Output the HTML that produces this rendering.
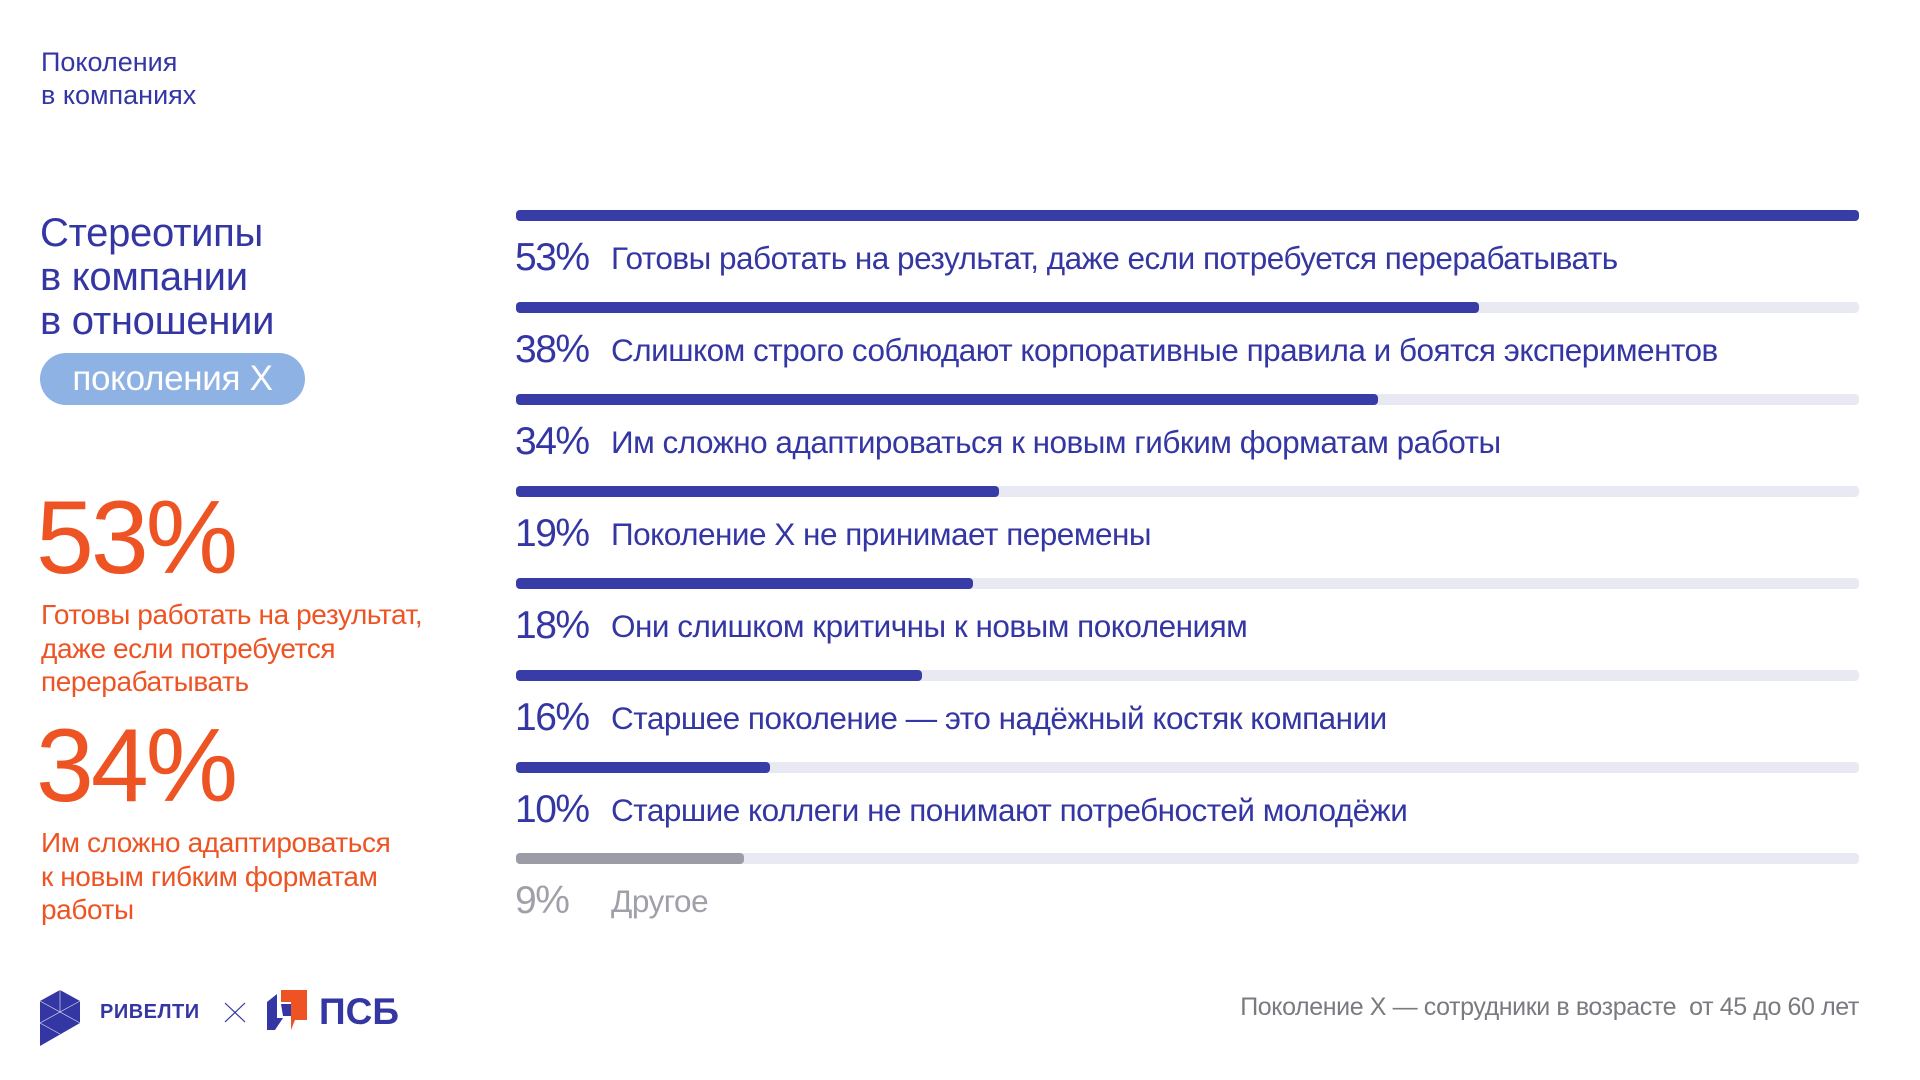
<!DOCTYPE html>
<html><head><meta charset="utf-8"><style>
*{margin:0;padding:0;box-sizing:border-box}
body{width:1920px;height:1080px;background:#fff;position:relative;overflow:hidden;font-family:"Liberation Sans","Noto Sans CJK SC",sans-serif;color:#3436a3}
.a{position:absolute;white-space:nowrap}
.track{position:absolute;left:516px;width:1343px;height:11px;border-radius:4px;background:#e9e9f3}
.fill{position:absolute;left:0;top:0;height:11px;border-radius:4px;background:#383ca6}
.pct{position:absolute;left:515px;font-size:39px;letter-spacing:-1.5px;line-height:40px}
.lbl{position:absolute;left:611px;font-size:31.5px;letter-spacing:-0.5px;line-height:40px}
.or{color:#ee5423}
</style></head><body>
<div class="a" style="left:41px;top:46px;font-size:27px;line-height:33px;letter-spacing:0px">Поколения<br>в компаниях</div>
<div class="a" style="left:40px;top:211px;font-size:40px;line-height:44px;letter-spacing:-0.3px">Стереотипы<br>в компании<br>в отношении</div>
<div class="a" style="left:40px;top:353px;width:265px;height:52px;border-radius:26px;background:#8fb2e5;color:#fff;font-size:35px;line-height:52px;text-align:center;letter-spacing:-0.3px">поколения X</div>
<div class="a or" style="left:36px;top:486px;font-size:104px;line-height:104px;letter-spacing:-3px">53%</div>
<div class="a or" style="left:41px;top:598px;font-size:28px;line-height:33.5px;letter-spacing:-0.4px">Готовы работать на результат,<br>даже если потребуется<br>перерабатывать</div>
<div class="a or" style="left:36px;top:714px;font-size:104px;line-height:104px;letter-spacing:-3px">34%</div>
<div class="a or" style="left:41px;top:826px;font-size:28px;line-height:33.5px;letter-spacing:-0.4px">Им сложно адаптироваться<br>к новым гибким форматам<br>работы</div>

<div class="track" style="top:210px"><div class="fill" style="width:100%"></div></div>
<div class="pct" style="top:238px">53%</div><div class="lbl" style="top:238px">Готовы работать на результат, даже если потребуется перерабатывать</div>
<div class="track" style="top:302px"><div class="fill" style="width:71.7%"></div></div>
<div class="pct" style="top:330px">38%</div><div class="lbl" style="top:330px">Слишком строго соблюдают корпоративные правила и боятся экспериментов</div>
<div class="track" style="top:394px"><div class="fill" style="width:64.2%"></div></div>
<div class="pct" style="top:422px">34%</div><div class="lbl" style="top:422px">Им сложно адаптироваться к новым гибким форматам работы</div>
<div class="track" style="top:486px"><div class="fill" style="width:36%"></div></div>
<div class="pct" style="top:514px">19%</div><div class="lbl" style="top:514px">Поколение X не принимает перемены</div>
<div class="track" style="top:578px"><div class="fill" style="width:34%"></div></div>
<div class="pct" style="top:606px">18%</div><div class="lbl" style="top:606px">Они слишком критичны к новым поколениям</div>
<div class="track" style="top:670px"><div class="fill" style="width:30.2%"></div></div>
<div class="pct" style="top:698px">16%</div><div class="lbl" style="top:698px">Старшее поколение — это надёжный костяк компании</div>
<div class="track" style="top:762px"><div class="fill" style="width:18.9%"></div></div>
<div class="pct" style="top:790px">10%</div><div class="lbl" style="top:790px">Старшие коллеги не понимают потребностей молодёжи</div>
<div class="track" style="top:853px"><div class="fill" style="width:17%;background:#9c9ca6"></div></div>
<div class="pct" style="top:881px;color:#a0a0aa">9%</div><div class="lbl" style="top:881px;color:#a0a0aa">Другое</div>

<svg class="a" style="left:40px;top:990px" width="42" height="58" viewBox="0 0 42 58">
<polygon points="0,11 20,0 40,11 40,33 0,56" fill="#3436a3"/>
<g stroke="#fff" stroke-width="0.7" fill="none" opacity="0.8"><line x1="20" y1="0" x2="20" y2="22"/><line x1="0" y1="11" x2="40" y2="33"/><line x1="40" y1="11" x2="0" y2="33"/><line x1="0" y1="33" x2="20" y2="44"/></g>
</svg>
<div class="a" style="left:100px;top:1001px;font-size:20px;font-weight:bold;letter-spacing:0.5px">РИВЕЛТИ</div>
<svg class="a" style="left:224px;top:1002px" width="22" height="21"><path d="M1 1L21 20M21 1L1 20" stroke="#3436a3" stroke-width="1.2"/></svg>
<svg class="a" style="left:267px;top:990px" width="42" height="42" viewBox="0 0 42 42">
<polygon points="0,12 10,4 10,28 16,28 8,40 0,40" fill="#3436a3"/>
<polygon points="14,0 40,0 40,30 28,30 24,40 24,12 14,12" fill="#ee5423"/>
<polygon points="14,14 24,14 24,26 16,26" fill="#3436a3"/>
</svg>
<div class="a" style="left:319px;top:991px;font-size:37px;font-weight:bold;line-height:42px">ПСБ</div>
<div class="a" style="right:61px;top:993px;font-size:25px;color:#7a7a80;letter-spacing:-0.4px">Поколение X — сотрудники в возрасте&nbsp; от 45 до 60 лет</div>
</body></html>
